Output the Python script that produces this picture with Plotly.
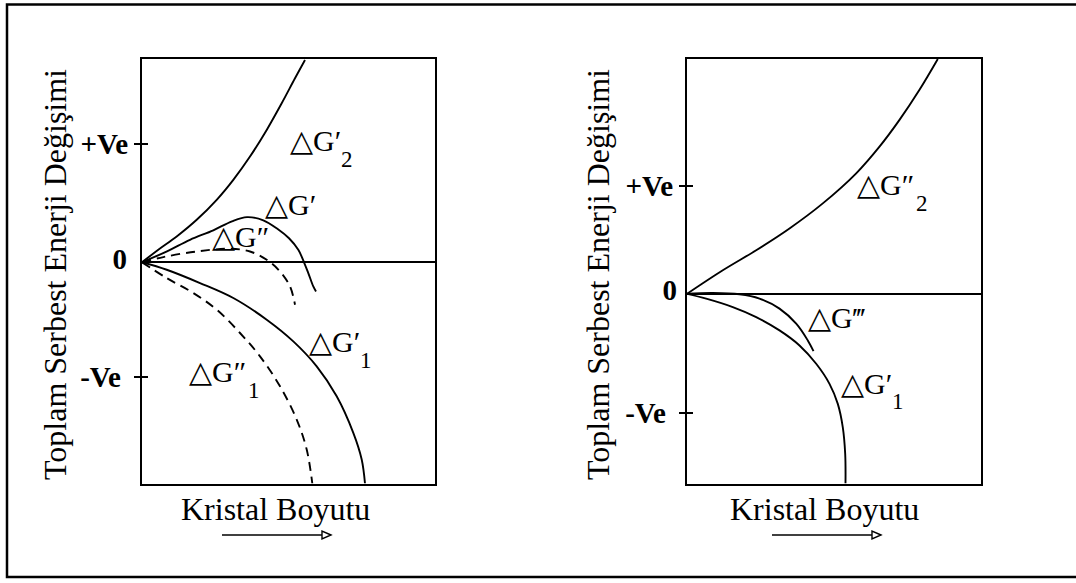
import plotly.graph_objects as go

# ---- curve data (x: crystal size, y: total free-energy change; arbitrary units) ----
# left panel
g2p_x = [0, 0.163, 0.347, 0.547, 0.747, 0.913, 1.08, 1.247, 1.397, 1.53, 1.63]
g2p_y = [0, 0.125, 0.258, 0.425, 0.625, 0.825, 1.058, 1.325, 1.592, 1.842, 2.025]

gp_x = [0, 0.25, 0.48, 0.713, 0.9, 1.05, 1.213, 1.36, 1.47, 1.563, 1.62, 1.663, 1.713, 1.74]
gp_y = [0, 0.11, 0.225, 0.32, 0.41, 0.452, 0.42, 0.33, 0.24, 0.125, 0.0, -0.108, -0.242, -0.292]

gpp_x = [0, 0.213, 0.547, 0.88, 1.08, 1.247, 1.38, 1.48, 1.53]
gpp_y = [0, 0.052, 0.108, 0.135, 0.108, 0.025, -0.092, -0.242, -0.425]

g1p_x = [0, 0.247, 0.58, 0.913, 1.247, 1.513, 1.747, 1.947, 2.113, 2.197, 2.23]
g1p_y = [0, -0.075, -0.208, -0.358, -0.575, -0.792, -1.042, -1.342, -1.708, -1.975, -2.215]

g1pp_x = [0, 0.247, 0.513, 0.747, 0.98, 1.18, 1.38, 1.547, 1.647, 1.703]
g1pp_y = [0, -0.158, -0.308, -0.475, -0.708, -0.942, -1.242, -1.575, -1.875, -2.215]

# right panel
g2pp_x = [0, 0.358, 0.692, 1.025, 1.358, 1.692, 1.925, 2.125, 2.325, 2.508]
g2pp_y = [0, 0.235, 0.435, 0.652, 0.902, 1.202, 1.468, 1.735, 2.035, 2.342]

gppp_x = [0, 0.258, 0.525, 0.725, 0.925, 1.092, 1.208, 1.265]
gppp_y = [0, 0.008, -0.005, -0.048, -0.148, -0.298, -0.465, -0.572]

g1p_r_x = [0, 0.192, 0.458, 0.692, 0.925, 1.125, 1.292, 1.425, 1.508, 1.558, 1.582, 1.585]
g1p_r_y = [0, -0.048, -0.132, -0.232, -0.365, -0.515, -0.698, -0.898, -1.098, -1.332, -1.598, -1.892]

# axis tick labels
tick_labels = ["+Ve", "0", "-Ve"]
left_tick_vals = [1.185, 0, -1.145]
right_tick_vals = [1.08, 0, -1.19]

x_title = "Kristal Boyutu"
y_title = "Toplam Serbest Enerji Değişimi"

# curve labels: (text, subscript)
left_labels = [("△G′", "2"), ("△G′", ""), ("△G″", ""), ("△G′", "1"), ("△G″", "1")]
right_labels = [("△G″", "2"), ("△G‴", ""), ("△G′", "1")]

# ---- layout constants ----
W, H = 1076, 583
SERIF = "Liberation Serif, Times New Roman, serif"
L_DOM = [142 / W, 435 / W]
R_DOM = [687 / W, 981 / W]
Y_DOM = [1 - 483.5 / H, 1 - 59 / H]
L_YR = [-2.215, 2.035]
R_YR = [-1.892, 2.342]
L_XR = [0, 2.93]
R_XR = [0, 2.94]
NBSP = "\u00a0"

fig = go.Figure()

solid = dict(color="black", width=1.9, shape="spline", smoothing=1)
dashed = dict(color="black", width=1.9, shape="spline", smoothing=1, dash="9px,6px")

for xs, ys, ln in [(g2p_x, g2p_y, solid), (gp_x, gp_y, solid), (gpp_x, gpp_y, dashed),
                   (g1p_x, g1p_y, solid), (g1pp_x, g1pp_y, dashed)]:
    fig.add_trace(go.Scatter(x=xs, y=ys, mode="lines", line=ln, xaxis="x", yaxis="y",
                             showlegend=False, hoverinfo="skip"))
for xs, ys, ln in [(g2pp_x, g2pp_y, solid), (gppp_x, gppp_y, solid), (g1p_r_x, g1p_r_y, solid)]:
    fig.add_trace(go.Scatter(x=xs, y=ys, mode="lines", line=ln, xaxis="x2", yaxis="y2",
                             showlegend=False, hoverinfo="skip"))
# empty traces so the overlay axes (inner tick marks, "0" label) get drawn
for xa, ya in [("x", "y3"), ("x2", "y4"), ("x", "y5"), ("x2", "y6")]:
    fig.add_trace(go.Scatter(x=[None], y=[None], mode="lines", xaxis=xa, yaxis=ya,
                             showlegend=False, hoverinfo="skip"))

TICKFONT = dict(family=SERIF, size=29, color="black", weight="bold")


def xaxis(dom, rng):
    return dict(domain=dom, range=rng, showline=True, linecolor="black", linewidth=2,
                mirror=True, showgrid=False, zeroline=False, showticklabels=False,
                ticks="", fixedrange=True)


def yaxis_main(anchor, rng, vals):
    # outer half of the crossing tick marks, with the +Ve / -Ve labels
    return dict(domain=Y_DOM, range=rng, anchor=anchor, showline=True, linecolor="black",
                linewidth=2, mirror=True, showgrid=False, zeroline=True,
                zerolinecolor="black", zerolinewidth=1.5,
                tickmode="array", tickvals=[vals[0], vals[2]],
                ticktext=[tick_labels[0], tick_labels[2] + NBSP],
                ticks="outside", ticklen=6, tickwidth=1.5, tickcolor="black",
                tickfont=TICKFONT, ticklabelstandoff=0, fixedrange=True)


def yaxis_inner_ticks(anchor, over, rng, vals):
    # inner half of the crossing tick marks
    return dict(domain=Y_DOM, range=rng, anchor=anchor, overlaying=over, showline=False,
                showgrid=False, zeroline=False, tickmode="array",
                tickvals=[vals[0], vals[2]], showticklabels=False,
                ticks="inside", ticklen=6, tickwidth=1.5, tickcolor="black",
                fixedrange=True)


def yaxis_zero_label(anchor, over, rng, vals, standoff, shift):
    # the "0" label, which has no tick mark
    return dict(domain=Y_DOM, range=rng, anchor=anchor, overlaying=over, showline=False,
                showgrid=False, zeroline=False, tickmode="array",
                tickvals=[vals[1]], ticktext=[tick_labels[1]], ticks="",
                tickfont=TICKFONT, ticklabelstandoff=standoff, ticklabelshift=shift,
                fixedrange=True)


fig.update_layout(
    width=W, height=H, margin=dict(l=0, r=0, t=0, b=0),
    paper_bgcolor="white", plot_bgcolor="white", showlegend=False,
    xaxis=xaxis(L_DOM, L_XR), xaxis2=xaxis(R_DOM, R_XR),
    yaxis=yaxis_main("x", L_YR, left_tick_vals),
    yaxis2=yaxis_main("x2", R_YR, right_tick_vals),
    yaxis3=yaxis_inner_ticks("x", "y", L_YR, left_tick_vals),
    yaxis4=yaxis_inner_ticks("x2", "y2", R_YR, right_tick_vals),
    yaxis5=yaxis_zero_label("x", "y", L_YR, left_tick_vals, 14, -3),
    yaxis6=yaxis_zero_label("x2", "y2", R_YR, right_tick_vals, 9, -4),
)

annotations = []
shapes = []
# axis titles and direction arrows
for tx_c, arr0, arr1 in [(275.5, 222, 331), (824.5, 772, 881)]:
    annotations.append(dict(text=x_title, xref="paper", yref="paper", x=tx_c / W,
                            y=1 - 509 / H, showarrow=False, xanchor="center", yanchor="middle",
                            font=dict(family=SERIF, size=32, color="black")))
    ya = 1 - 535 / H
    shapes.append(dict(type="line", xref="paper", yref="paper", x0=arr0 / W, x1=(arr1 - 8) / W,
                       y0=ya, y1=ya, line=dict(color="black", width=1.6)))
    head = (f"M {arr1 / W},{ya} L {(arr1 - 9) / W},{ya + 4 / H} "
            f"L {(arr1 - 9) / W},{ya - 4 / H} Z")
    shapes.append(dict(type="path", xref="paper", yref="paper", path=head,
                       line=dict(color="black", width=1.4), fillcolor="white"))
for x_c in [55, 598]:
    annotations.append(dict(text=y_title, xref="paper", yref="paper", x=x_c / W,
                            y=1 - 275 / H, showarrow=False, textangle=-90,
                            xanchor="center", yanchor="middle",
                            font=dict(family=SERIF, size=32, color="black")))

# curve labels: (left x, top y) in axis units; subscripts sit just right of the primes
left_pos = [(1.46, 1.40), (1.21, 0.76), (0.68, 0.44), (1.647, -0.61), (0.447, -0.91)]
right_pos = [(1.675, 1.27), (1.192, -0.055), (1.515, -0.71)]
SUB_SHIFT = {"△G′": 51, "△G″": 59}
for labels, pos, xr, yr in [(left_labels, left_pos, "x", "y"), (right_labels, right_pos, "x2", "y2")]:
    for (txt, sub), (lx, ly) in zip(labels, pos):
        annotations.append(dict(text=txt, xref=xr, yref=yr, x=lx, y=ly, showarrow=False,
                                xanchor="left", yanchor="top",
                                font=dict(family=SERIF, size=30, color="black")))
        if sub:
            annotations.append(dict(text=sub, xref=xr, yref=yr, x=lx, y=ly, showarrow=False,
                                    xanchor="left", yanchor="middle",
                                    xshift=SUB_SHIFT[txt], yshift=-37,
                                    font=dict(family=SERIF, size=23, color="black")))

# outer frame (open on the right side)
shapes.append(dict(type="rect", xref="paper", yref="paper", x0=7 / W, y0=1 - 577 / H,
                   x1=1.01, y1=1 - 4.5 / H, line=dict(color="black", width=2.5),
                   fillcolor="rgba(0,0,0,0)", layer="above"))
fig.update_layout(annotations=annotations, shapes=shapes)

fig.write_html("out.html")
